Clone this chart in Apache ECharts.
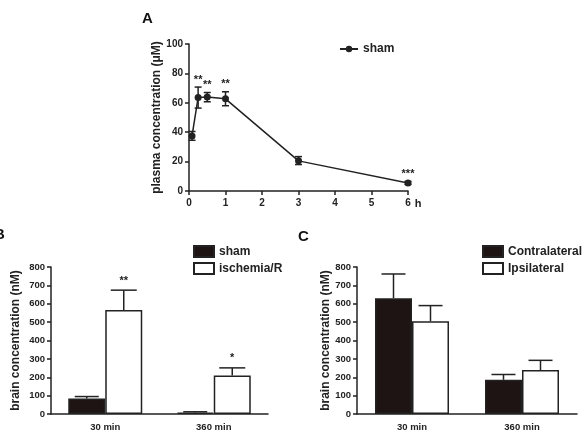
<!DOCTYPE html>
<html>
<head>
<meta charset="utf-8">
<script src="https://cdn.jsdelivr.net/npm/echarts@6/dist/echarts.min.js"></script>
<style>
  html, body { margin: 0; padding: 0; background: #fff; }
  #chart { width: 587px; height: 439px; }
</style>
</head>
<body>
<div id="chart"></div>
<script>
// Panel A - plasma concentration over time (h)
const timeH = [0.083, 0.25, 0.5, 1, 3, 6];
const plasmaMean = [37.5, 63.6, 64, 62.7, 20.5, 5.5];
const plasmaLow = [34.5, 56.4, 60.7, 58, 18, 4.5];
const plasmaHigh = [40.5, 70.7, 67, 67.5, 23.4, 6.5];
const plasmaStars = ['', '**', '**', '**', '', '***'];

// Panel B - brain concentration, sham vs ischemia/R
const timeCats = ['30 min', '360 min'];
const shamMean = [85, 8];
const shamErr = [95, 12];
const ischMean = [566, 210];
const ischErr = [674, 251];
const ischStars = ['**', '*'];

// Panel C - brain concentration, contralateral vs ipsilateral
const contraMean = [630, 186];
const contraErr = [762, 215];
const ipsiMean = [505, 239];
const ipsiErr = [590, 292];

const ink = '#222';
const barDark = '#1f1414';
const font = '"Liberation Sans", Arial, sans-serif';

const chart = echarts.init(document.getElementById('chart'));

function yAxisCommon(gridIndex, max, interval, name, gap, labelSize) {
  return {
    type: 'value', gridIndex, min: 0, max, interval, name,
    nameLocation: 'middle', nameGap: gap, nameRotate: 90,
    nameTextStyle: { color: ink, fontFamily: font, fontWeight: 'bold', fontSize: 12 },
    axisLine: { show: true, lineStyle: { color: ink, width: 1.5 } },
    axisTick: { show: true, length: 4, lineStyle: { color: ink, width: 1.5 } },
    axisLabel: { color: ink, fontFamily: font, fontWeight: 'bold', fontSize: labelSize, margin: 6 },
    splitLine: { show: false }
  };
}

function catAxis(gridIndex) {
  return {
    type: 'category', gridIndex, data: timeCats, boundaryGap: true,
    axisLine: { lineStyle: { color: ink, width: 1.5 } },
    axisTick: { alignWithLabel: true, length: 4, lineStyle: { color: ink, width: 1.5 } },
    axisLabel: { color: ink, fontFamily: font, fontWeight: 'bold', fontSize: 9.5, margin: 8 }
  };
}

// upward error bar with cap drawn above a bar (offset in px from category center)
function barErr(offset, capW) {
  return function (params, api) {
    const base = api.coord([api.value(0), api.value(1)]);
    const top = api.coord([api.value(0), api.value(2)]);
    const x = base[0] + offset;
    const star = api.value(3);
    const children = [
      { type: 'line', shape: { x1: x, y1: base[1], x2: x, y2: top[1] }, style: { stroke: ink, lineWidth: 1.5 } },
      { type: 'line', shape: { x1: x - capW / 2, y1: top[1], x2: x + capW / 2, y2: top[1] }, style: { stroke: ink, lineWidth: 1.5 } }
    ];
    if (star) {
      children.push({ type: 'text', x: x, y: top[1] - 4,
        style: { text: star, fill: ink, font: 'bold 11px ' + font, align: 'center', verticalAlign: 'bottom' } });
    }
    return { type: 'group', children };
  };
}

function errData(mean, err, stars) {
  return mean.map((m, i) => [i, m, err[i], stars ? stars[i] : '']);
}

const legendText = { color: ink, fontWeight: 'bold', fontSize: 12, fontFamily: font };

const option = {
  animation: false,
  backgroundColor: '#fff',
  textStyle: { fontFamily: font },
  grid: [
    { left: 189, top: 44, width: 219, height: 147 },
    { left: 51, top: 267, width: 217, height: 147 },
    { left: 357, top: 267, width: 220, height: 147 }
  ],
  graphic: [
    { type: 'text', left: 142, top: 11, style: { text: 'A', font: 'bold 15px ' + font, fill: '#111' } },
    { type: 'text', left: -6, top: 227, style: { text: 'B', font: 'bold 15px ' + font, fill: '#111' } },
    { type: 'text', left: 298, top: 229, style: { text: 'C', font: 'bold 15px ' + font, fill: '#111' } }
  ],
  legend: [
    { left: 334, top: 38, itemWidth: 18, itemHeight: 8, data: ['sham'], textStyle: legendText },
    { left: 188, top: 240, orient: 'vertical', itemWidth: 20, itemHeight: 11, itemGap: 4,
      icon: 'rect', data: ['sham (B)', 'ischemia/R'], formatter: n => n.replace(' (B)', ''),
      textStyle: legendText },
    { left: 477, top: 240, orient: 'vertical', itemWidth: 20, itemHeight: 11, itemGap: 4,
      icon: 'rect', data: ['Contralateral', 'Ipsilateral'], textStyle: legendText }
  ],
  xAxis: [
    { type: 'value', gridIndex: 0, min: 0, max: 6, interval: 1, name: 'h',
      nameLocation: 'end', nameGap: 3,
      nameTextStyle: { color: ink, fontFamily: font, fontWeight: 'bold', fontSize: 11, verticalAlign: 'top', padding: [7, 0, 0, 0] },
      axisLine: { lineStyle: { color: ink, width: 1.5 } },
      axisTick: { length: 4, lineStyle: { color: ink, width: 1.5 } },
      axisLabel: { color: ink, fontFamily: font, fontWeight: 'bold', fontSize: 10, margin: 7 },
      splitLine: { show: false } },
    catAxis(1),
    catAxis(2)
  ],
  yAxis: [
    yAxisCommon(0, 100, 20, 'plasma concentration (μM)', 23, 10),
    yAxisCommon(1, 800, 100, 'brain concentration (nM)', 29, 9.5),
    yAxisCommon(2, 800, 100, 'brain concentration (nM)', 25, 9.5)
  ],
  series: [
    { name: 'sham', type: 'line', xAxisIndex: 0, yAxisIndex: 0,
      data: timeH.map((t, i) => [t, plasmaMean[i]]),
      symbol: 'circle', symbolSize: 7,
      lineStyle: { color: ink, width: 1.5 }, itemStyle: { color: ink } },
    { type: 'custom', xAxisIndex: 0, yAxisIndex: 0, z: 5,
      data: timeH.map((t, i) => [t, plasmaLow[i], plasmaHigh[i], plasmaStars[i]]),
      encode: { x: 0, y: [1, 2] },
      renderItem: function (params, api) {
        const lo = api.coord([api.value(0), api.value(1)]);
        const hi = api.coord([api.value(0), api.value(2)]);
        const x = lo[0], w = 3.5;
        const star = api.value(3);
        const st = { stroke: ink, lineWidth: 1.5 };
        const children = [
          { type: 'line', shape: { x1: x, y1: lo[1], x2: x, y2: hi[1] }, style: st },
          { type: 'line', shape: { x1: x - w, y1: lo[1], x2: x + w, y2: lo[1] }, style: st },
          { type: 'line', shape: { x1: x - w, y1: hi[1], x2: x + w, y2: hi[1] }, style: st }
        ];
        if (star) {
          children.push({ type: 'text', x: x, y: hi[1] - 2,
            style: { text: star, fill: ink, font: 'bold 11px ' + font, align: 'center', verticalAlign: 'bottom' } });
        }
        return { type: 'group', children };
      } },

    { name: 'sham (B)', type: 'bar', xAxisIndex: 1, yAxisIndex: 1, data: shamMean,
      barWidth: 37, barGap: '0%', itemStyle: { color: barDark, borderColor: ink, borderWidth: 1.5 } },
    { name: 'ischemia/R', type: 'bar', xAxisIndex: 1, yAxisIndex: 1, data: ischMean,
      barWidth: 37, barGap: '0%', itemStyle: { color: '#fff', borderColor: ink, borderWidth: 1.5 } },
    { type: 'custom', xAxisIndex: 1, yAxisIndex: 1, z: 5, data: errData(shamMean, shamErr),
      encode: { x: 0, y: [1, 2] }, renderItem: barErr(-18.5, 24) },
    { type: 'custom', xAxisIndex: 1, yAxisIndex: 1, z: 5, data: errData(ischMean, ischErr, ischStars),
      encode: { x: 0, y: [1, 2] }, renderItem: barErr(18.5, 26) },

    { name: 'Contralateral', type: 'bar', xAxisIndex: 2, yAxisIndex: 2, data: contraMean,
      barWidth: 37, barGap: '0%', itemStyle: { color: barDark, borderColor: ink, borderWidth: 1.5 } },
    { name: 'Ipsilateral', type: 'bar', xAxisIndex: 2, yAxisIndex: 2, data: ipsiMean,
      barWidth: 37, barGap: '0%', itemStyle: { color: '#fff', borderColor: ink, borderWidth: 1.5 } },
    { type: 'custom', xAxisIndex: 2, yAxisIndex: 2, z: 5, data: errData(contraMean, contraErr),
      encode: { x: 0, y: [1, 2] }, renderItem: barErr(-18.5, 24) },
    { type: 'custom', xAxisIndex: 2, yAxisIndex: 2, z: 5, data: errData(ipsiMean, ipsiErr),
      encode: { x: 0, y: [1, 2] }, renderItem: barErr(18.5, 24) }
  ]
};

chart.setOption(option);
</script>
</body>
</html>
